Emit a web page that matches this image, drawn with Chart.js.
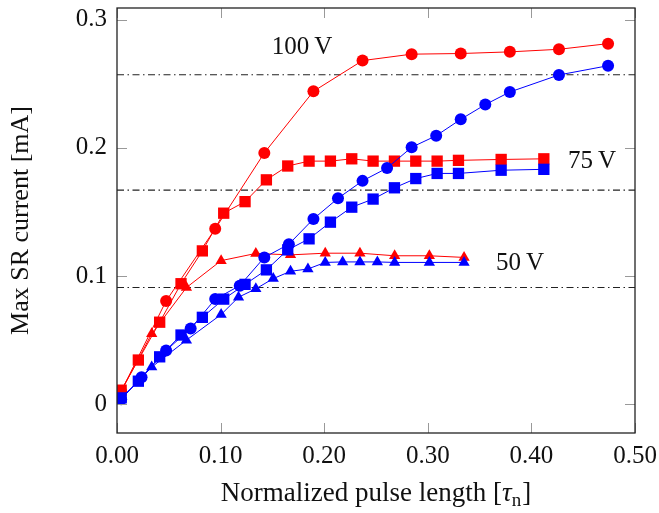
<!DOCTYPE html>
<html>
<head>
<meta charset="utf-8">
<script src="https://cdn.jsdelivr.net/npm/chart.js@4.4.0/dist/chart.umd.min.js"></script>
<style>
  html, body { margin: 0; padding: 0; background: #fff; }
</style>
</head>
<body>
<canvas id="srChart" width="659" height="513"></canvas>
<script>
// 100 V (circles)
const xRed100 = [0.004, 0.0474, 0.0948, 0.1422, 0.1896, 0.237, 0.2844, 0.3318, 0.3792, 0.4266, 0.474];
const yRed100 = [0.010, 0.0806, 0.1368, 0.196, 0.244, 0.268, 0.273, 0.2735, 0.2748, 0.2768, 0.2812];
const xBlue100 = [0.004, 0.0237, 0.0474, 0.0711, 0.0948, 0.1185, 0.1422, 0.1659, 0.1896, 0.2133, 0.237, 0.2607, 0.2844, 0.3081, 0.3318, 0.3555, 0.3792, 0.4266, 0.474];
const yBlue100 = [0.004, 0.021, 0.042, 0.059, 0.082, 0.0925, 0.1145, 0.1248, 0.1445, 0.1606, 0.1742, 0.1842, 0.2004, 0.2094, 0.2222, 0.2337, 0.2435, 0.2568, 0.264];

// 75 V (squares)
const xSquare = [0.004, 0.0206, 0.0412, 0.0618, 0.0824, 0.103, 0.1236, 0.1442, 0.1648, 0.1854, 0.206, 0.2266, 0.2472, 0.2678, 0.2884, 0.309, 0.3296, 0.3708, 0.412];
const yRed75 = [0.011, 0.0345, 0.064, 0.094, 0.1196, 0.149, 0.158, 0.175, 0.1858, 0.1896, 0.1896, 0.1914, 0.1896, 0.1896, 0.1896, 0.1896, 0.1902, 0.1909, 0.1914];
const yBlue75 = [0.005, 0.018, 0.037, 0.054, 0.0678, 0.082, 0.0935, 0.1048, 0.1204, 0.129, 0.142, 0.1537, 0.160, 0.1688, 0.176, 0.180, 0.180, 0.1825, 0.1832];

// 50 V (triangles)
const xRed50 = [0.004, 0.0335, 0.067, 0.1005, 0.134, 0.1675, 0.201, 0.2345, 0.268, 0.3015, 0.335];
const yRed50 = [0.010, 0.055, 0.091, 0.112, 0.1176, 0.1165, 0.1178, 0.1178, 0.1158, 0.1158, 0.1145];
const xBlue50 = [0.004, 0.0335, 0.067, 0.1005, 0.1173, 0.134, 0.1508, 0.1675, 0.1843, 0.201, 0.2178, 0.2345, 0.2513, 0.268, 0.3015, 0.335];
const yBlue50 = [0.004, 0.029, 0.050, 0.070, 0.0835, 0.090, 0.098, 0.1037, 0.1055, 0.1106, 0.111, 0.111, 0.111, 0.1106, 0.1106, 0.1106];

// saturation levels (dash-dot lines)
const levels = [0.257, 0.167, 0.091];
const levelNames = ['100\u2009V', '75\u2009V', '50\u2009V'];
const levelLabelX = [0.1786, 0.4585, 0.389];
const levelLabelY = [0.278, 0.189, 0.1097];

const xTicks = [0, 0.1, 0.2, 0.3, 0.4, 0.5];
const xTickLabels = ['0.00', '0.10', '0.20', '0.30', '0.40', '0.50'];
const yTicks = [0, 0.1, 0.2, 0.3];
const yTickLabels = ['0', '0.1', '0.2', '0.3'];

const RED = '#ff0000';
const BLUE = '#0000ff';
const FONT = '"Liberation Serif", "DejaVu Serif", serif';

function pts(xs, ys) {
    return xs.map((x, i) => ({ x: x, y: ys[i] }));
}

function series(xs, ys, color, style, r) {
    return {
        data: pts(xs, ys),
        borderColor: color,
        backgroundColor: color,
        borderWidth: 1,
        pointStyle: style,
        pointRadius: r,
        pointBorderWidth: 0,
        pointBackgroundColor: color,
        tension: 0
    };
}

const datasets = [
    series(xBlue100, yBlue100, BLUE, 'circle', 6),
    series(xSquare, yBlue75, BLUE, 'rect', 8),
    series(xBlue50, yBlue50, BLUE, 'triangle', 6.5),
    series(xRed100, yRed100, RED, 'circle', 6),
    series(xSquare, yRed75, RED, 'rect', 8),
    series(xRed50, yRed50, RED, 'triangle', 6.5)
];
levels.forEach(v => {
    datasets.push({
        data: [{ x: 0, y: v }, { x: 0.5, y: v }],
        borderColor: '#222',
        borderWidth: 1.1,
        borderDash: [7, 3.5, 1.5, 3.5],
        pointRadius: 0
    });
});

// frame, inward ticks, voltage labels and x title
const framePlugin = {
    id: 'frame',
    afterDraw(chart) {
        const ctx = chart.ctx;
        const a = chart.chartArea;
        const xs = chart.scales.x, ys = chart.scales.y;
        ctx.save();
        ctx.strokeStyle = '#999';
        ctx.lineWidth = 1;
        const tl = 10;
        xTicks.forEach(v => {
            const px = Math.round(xs.getPixelForValue(v)) + 0.5;
            ctx.beginPath();
            ctx.moveTo(px, a.bottom); ctx.lineTo(px, a.bottom - tl);
            ctx.moveTo(px, a.top); ctx.lineTo(px, a.top + tl);
            ctx.stroke();
        });
        yTicks.forEach(v => {
            const py = Math.round(ys.getPixelForValue(v)) + 0.5;
            ctx.beginPath();
            ctx.moveTo(a.left, py); ctx.lineTo(a.left + tl, py);
            ctx.moveTo(a.right, py); ctx.lineTo(a.right - tl, py);
            ctx.stroke();
        });
        ctx.strokeStyle = '#222';
        ctx.lineWidth = 1.3;
        ctx.strokeRect(a.left, a.top, a.right - a.left, a.bottom - a.top);

        ctx.fillStyle = '#111';
        ctx.font = '25px ' + FONT;
        ctx.textAlign = 'center';
        ctx.textBaseline = 'middle';
        levelNames.forEach((t, i) => {
            ctx.fillText(t, xs.getPixelForValue(levelLabelX[i]), ys.getPixelForValue(levelLabelY[i]));
        });

        // x axis title with subscript
        ctx.textAlign = 'left';
        ctx.textBaseline = 'alphabetic';
        const p1 = 'Normalized pulse length [';
        ctx.font = '27px ' + FONT;
        const w1 = ctx.measureText(p1).width;
        const wB = ctx.measureText(']').width;
        ctx.font = 'italic 27px ' + FONT;
        const wT = ctx.measureText('\u03c4').width;
        ctx.font = '19px ' + FONT;
        const wN = ctx.measureText('n').width;
        const total = w1 + wT + wN + wB + 1;
        let x = (a.left + a.right) / 2 - total / 2;
        const base = 501;
        ctx.font = '27px ' + FONT;
        ctx.fillText(p1, x, base); x += w1;
        ctx.font = 'italic 27px ' + FONT;
        ctx.fillText('\u03c4', x, base); x += wT;
        ctx.font = '19px ' + FONT;
        ctx.fillText('n', x, base + 5); x += wN + 1;
        ctx.font = '27px ' + FONT;
        ctx.fillText(']', x, base);
        ctx.restore();
    }
};

function noPad(s) {
    s.paddingTop = 0; s.paddingBottom = 0;
    s.paddingLeft = 0; s.paddingRight = 0;
}

Chart.defaults.font.family = FONT;
Chart.defaults.color = '#111';

const ctx = document.getElementById('srChart').getContext('2d');
new Chart(ctx, {
    type: 'line',
    data: { datasets: datasets },
    plugins: [framePlugin],
    options: {
        responsive: false,
        animation: false,
        layout: { padding: { left: 0, right: 24, top: 4, bottom: 0 } },
        plugins: { legend: { display: false }, tooltip: { enabled: false } },
        scales: {
            x: {
                type: 'linear',
                min: 0,
                max: 0.5,
                grid: { display: false, drawTicks: false },
                border: { display: false },
                afterBuildTicks: s => { s.ticks = xTicks.map(v => ({ value: v })); },
                afterFit: s => { s.height = 80; noPad(s); },
                ticks: {
                    font: { size: 25 },
                    padding: 8,
                    maxRotation: 0,
                    callback: (v, i) => xTickLabels[i]
                }
            },
            y: {
                type: 'linear',
                min: -0.0224,
                max: 0.309,
                grid: { display: false, drawTicks: false },
                border: { display: false },
                afterBuildTicks: s => { s.ticks = yTicks.map(v => ({ value: v })); },
                afterFit: s => { s.width = 117; noPad(s); },
                ticks: {
                    font: { size: 25 },
                    padding: 10,
                    callback: (v, i) => yTickLabels[i]
                },
                title: {
                    display: true,
                    text: 'Max SR current [mA]',
                    font: { size: 26 },
                    padding: { top: 6, bottom: 0 }
                }
            }
        }
    }
});
</script>
</body>
</html>
